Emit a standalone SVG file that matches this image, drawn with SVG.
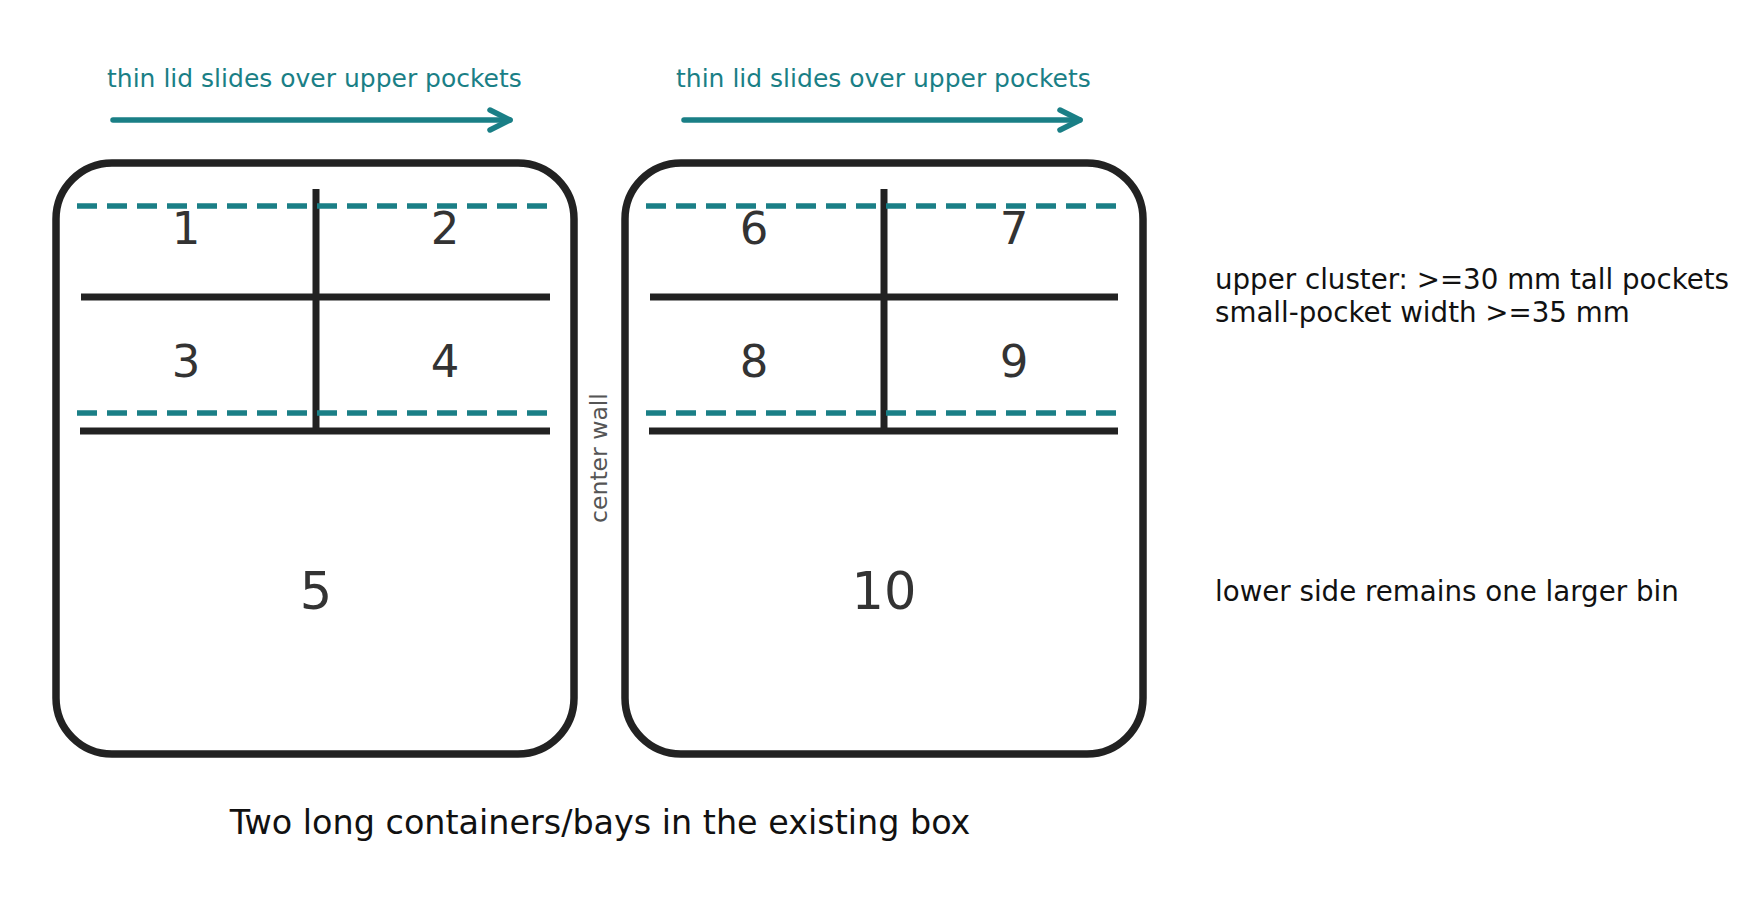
<svg xmlns="http://www.w3.org/2000/svg" width="1750" height="898" viewBox="0 0 1750 898">
<style>
text{font-family:"DejaVu Sans",sans-serif}
.box{fill:none;stroke:#222;stroke-width:7.5}
.wall{stroke:#222;stroke-width:7}
.lid{stroke:#1a7f86;stroke-width:5.5;stroke-dasharray:20 10}
.num{font-size:45px;fill:#333;text-anchor:middle}
.big{font-size:51px;fill:#333;text-anchor:middle}
.teal{font-size:25px;fill:#1a7f86}
.note{font-size:27.7px;fill:#111}
.arr{stroke:#1a7f86;stroke-width:5.5;stroke-linecap:round;fill:none}
</style>
<rect width="1750" height="898" fill="#fff"/>
<g id="connectors">
<line class="arr" x1="113" y1="120" x2="510" y2="120"/>
<polyline class="arr" stroke-linejoin="round" points="490,110 510,120 490,130"/>
<line class="arr" x1="684" y1="120" x2="1080" y2="120"/>
<polyline class="arr" stroke-linejoin="round" points="1060,110 1080,120 1060,130"/>
</g>
<g id="lid-label-1"><text class="teal" x="107" y="87">thin lid slides over upper pockets</text></g>
<g id="lid-label-2"><text class="teal" x="676" y="87">thin lid slides over upper pockets</text></g>
<g id="container-1">
<rect class="box" x="56" y="163" width="518" height="591" rx="56"/>
<line class="wall" x1="316" y1="189" x2="316" y2="431"/>
<line class="wall" x1="81" y1="297" x2="550" y2="297"/>
<line class="wall" x1="80" y1="431" x2="550" y2="431"/>
<line class="lid" x1="77" y1="206" x2="553" y2="206"/>
<line class="lid" x1="77" y1="413" x2="553" y2="413"/>
<text class="num" x="186" y="244">1</text>
<text class="num" x="445" y="244">2</text>
<text class="num" x="186" y="377">3</text>
<text class="num" x="445" y="377">4</text>
<text class="big" x="316" y="609">5</text>
</g>
<g id="center-wall"><text x="599" y="458" font-size="23.5" fill="#555" text-anchor="middle" transform="rotate(-90 599 458)" dy="8">center wall</text></g>
<g id="container-2">
<rect class="box" x="625" y="163" width="518" height="591" rx="56"/>
<line class="wall" x1="884" y1="189" x2="884" y2="431"/>
<line class="wall" x1="650" y1="297" x2="1118" y2="297"/>
<line class="wall" x1="649" y1="431" x2="1118" y2="431"/>
<line class="lid" x1="646" y1="206" x2="1121" y2="206"/>
<line class="lid" x1="646" y1="413" x2="1121" y2="413"/>
<text class="num" x="754" y="244">6</text>
<text class="num" x="1014" y="244">7</text>
<text class="num" x="754" y="377">8</text>
<text class="num" x="1014" y="377">9</text>
<text class="big" x="884" y="609">10</text>
</g>
<g id="notes">
<text class="note" x="1215" y="289">upper cluster: &gt;=30 mm tall pockets</text>
<text class="note" x="1215" y="322">small-pocket width &gt;=35 mm</text>
<text class="note" x="1215" y="601">lower side remains one larger bin</text>
</g>
<g id="caption"><text x="600" y="834" font-size="33.4" fill="#111" text-anchor="middle">Two long containers/bays in the existing box</text></g>
</svg>
